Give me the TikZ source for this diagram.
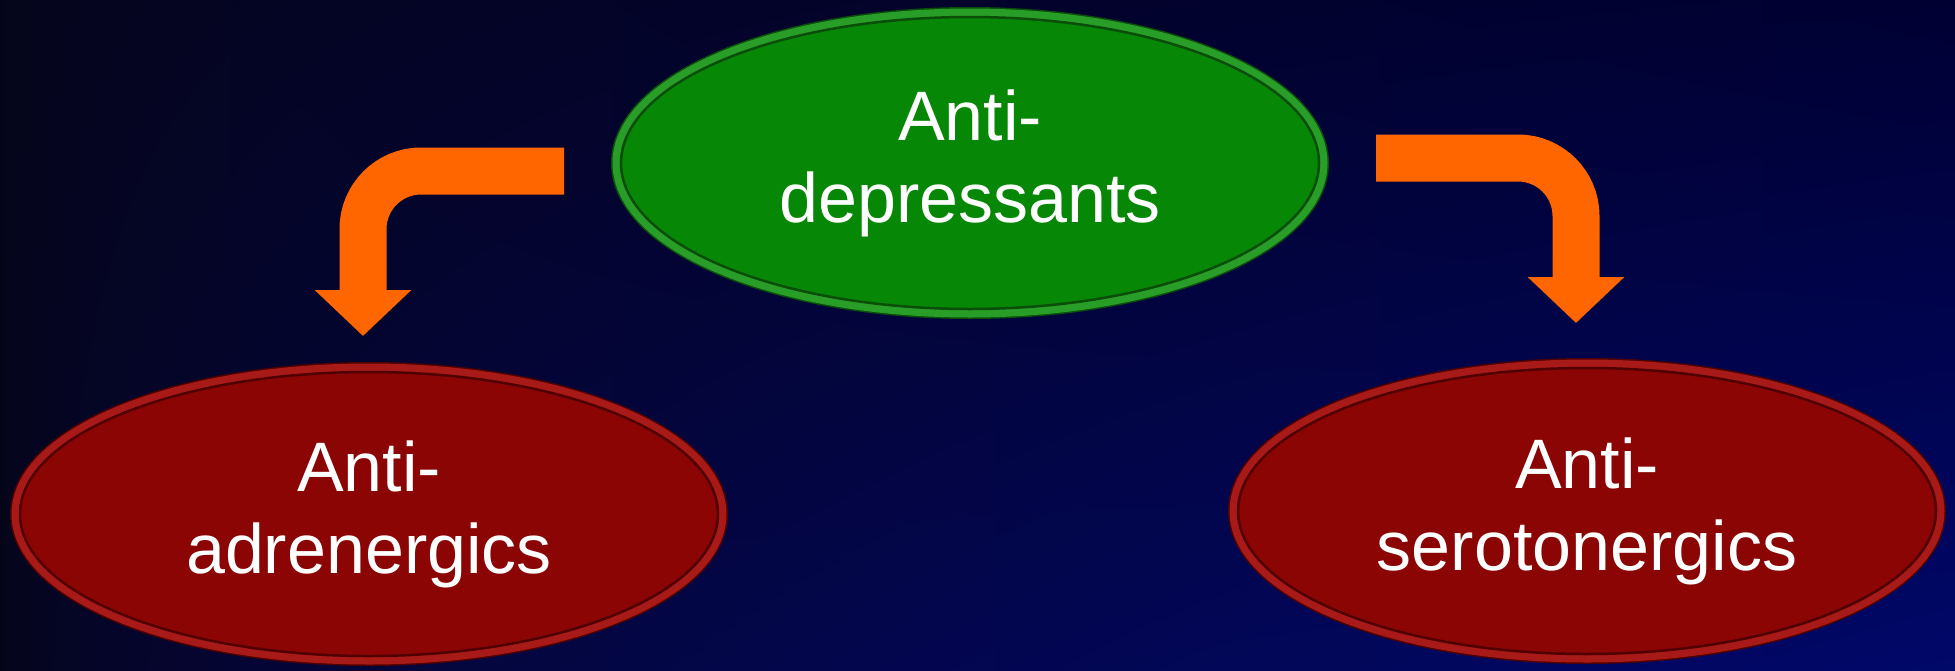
\documentclass[tikz,border=0pt]{standalone}
\usepackage{fontspec}
\setmainfont{Liberation Sans}
\usetikzlibrary{shapes.geometric,arrows.meta}
\definecolor{greenfill}{RGB}{6,135,6}
\definecolor{greenrim}{RGB}{40,158,40}
\definecolor{greenedge}{RGB}{10,78,10}
\definecolor{redfill}{RGB}{139,5,5}
\definecolor{redrim}{RGB}{168,26,24}
\definecolor{rededge}{RGB}{80,0,0}
\definecolor{bendorange}{RGB}{255,102,0}
% dark at the left, navy towards the lower right
\pgfdeclarefunctionalshading{slideback}{\pgfpointorigin}{\pgfpoint{100bp}{100bp}}{}{
  25 sub 50 div exch 25 sub 50 div exch
  1 index abs sqrt
  0.324 2 index 0.224 mul sub
  mul
  1 index 0.014 mul add 0.086 add
  3 1 roll
  1 exch sub 1 index mul 0.03 mul
  exch 1 exch sub 0.02 mul
  dup 3 -1 roll add
  3 -1 roll
}
\begin{document}
\begin{tikzpicture}[x=1pt,y=-1pt,
  pill/.style={ellipse,inner sep=0pt,outer sep=0pt,align=center,text=white,
    font=\fontsize{70}{82}\selectfont,minimum width=698pt},
  greenpill/.style={pill,fill=greenfill,draw=greenedge,line width=2.5pt,
    preaction={draw=greenedge,line width=20pt},
    preaction={draw=greenrim,line width=17pt}},
  redpill/.style={pill,fill=redfill,draw=rededge,line width=2.5pt,
    preaction={draw=rededge,line width=20pt},
    preaction={draw=redrim,line width=17pt}},
  bentarrow/.style={draw=bendorange,line width=47pt,rounded corners=58pt,
    -{Triangle[length=46pt,width=94pt]}}]
\useasboundingbox (0,0) rectangle (1955,670);
\shade[shading=slideback] (0,0) rectangle (1955,670);
% the three classes
\node[greenpill,minimum height=292pt] (dep) at (970,163) {Anti-\\depressants};
\node[redpill,minimum height=284pt] (adr) at (369,514) {Anti-\\adrenergics};
\node[redpill,minimum height=286pt] (ser) at (1587,511) {Anti-\\serotonergics};
% bent arrows
\coordinate (adr-tail) at (564,171);
\coordinate (adr-tip) at (363,336);
\coordinate (ser-tail) at (1376,158);
\coordinate (ser-tip) at (1576,323);
\draw[bentarrow] (adr-tail) -| (adr-tip);
\draw[bentarrow] (ser-tail) -| (ser-tip);
\end{tikzpicture}
\end{document}
